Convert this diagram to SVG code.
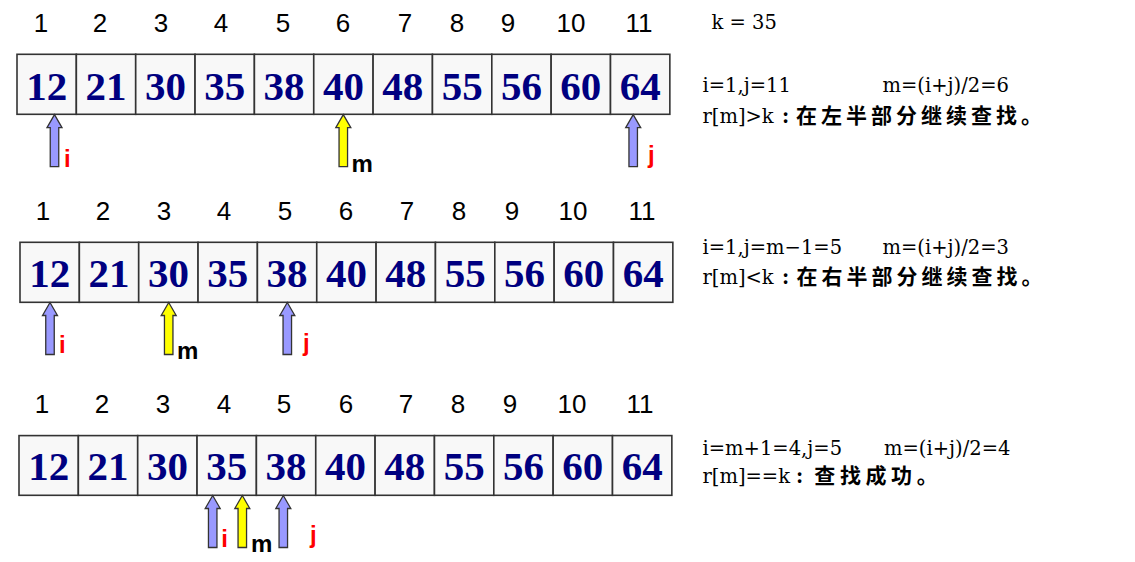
<svg xmlns="http://www.w3.org/2000/svg" xmlns:xlink="http://www.w3.org/1999/xlink" width="1135" height="562" viewBox="0 0 1135 562">
<style>
.cell{fill:#f8f8f8;stroke:#333;stroke-width:1.6}
.num{font-family:"Liberation Serif","Times New Roman",serif;font-weight:bold;font-size:41px;fill:#000080;text-anchor:middle}
.idx{font-family:"Liberation Sans",Arial,sans-serif;font-size:26px;fill:#000;text-anchor:middle}
.note{font-family:"DejaVu Serif",serif;font-size:19.5px;fill:#000}
.colon{font-weight:bold}
.cjk{font-family:"Noto Sans CJK SC","Noto Sans CJK TC",sans-serif;font-size:21px;font-weight:bold}
.lbl{font-family:"Liberation Sans",Arial,sans-serif;font-weight:bold;font-size:24px}
.red{fill:#ff0000}
.blk{fill:#000}
</style>
<defs>
<path id="arrowBlue" d="M0,0 L7.5,13 L4.25,13 L4.25,52 L-4.25,52 L-4.25,13 L-7.5,13 Z" fill="#9999ff" stroke="#333" stroke-width="1.3" stroke-linejoin="miter"/>
<path id="arrowYellow" d="M0,0 L7.5,13 L4.25,13 L4.25,52 L-4.25,52 L-4.25,13 L-7.5,13 Z" fill="#ffff00" stroke="#333" stroke-width="1.3" stroke-linejoin="miter"/>
</defs>
<rect width="1135" height="562" fill="#fff"/>

<!-- Index labels -->
<g id="indices">
<g id="idx-row1">
<text class="idx" x="41" y="31.5">1</text><text class="idx" x="100" y="31.5">2</text><text class="idx" x="161" y="31.5">3</text><text class="idx" x="221" y="31.5">4</text><text class="idx" x="283" y="31.5">5</text><text class="idx" x="343" y="31.5">6</text><text class="idx" x="405" y="31.5">7</text><text class="idx" x="457" y="31.5">8</text><text class="idx" x="508" y="31.5">9</text><text class="idx" x="571" y="31.5">10</text><text class="idx" x="639" y="31.5">11</text>
</g>
<g id="idx-row2">
<text class="idx" x="43" y="220">1</text><text class="idx" x="103" y="220">2</text><text class="idx" x="164" y="220">3</text><text class="idx" x="224" y="220">4</text><text class="idx" x="285" y="220">5</text><text class="idx" x="346" y="220">6</text><text class="idx" x="407" y="220">7</text><text class="idx" x="459" y="220">8</text><text class="idx" x="512" y="220">9</text><text class="idx" x="573" y="220">10</text><text class="idx" x="642" y="220">11</text>
</g>
<g id="idx-row3">
<text class="idx" x="42" y="412.7">1</text><text class="idx" x="102" y="412.7">2</text><text class="idx" x="163" y="412.7">3</text><text class="idx" x="224" y="412.7">4</text><text class="idx" x="284" y="412.7">5</text><text class="idx" x="346" y="412.7">6</text><text class="idx" x="406" y="412.7">7</text><text class="idx" x="458" y="412.7">8</text><text class="idx" x="510" y="412.7">9</text><text class="idx" x="572" y="412.7">10</text><text class="idx" x="640" y="412.7">11</text>
</g>
</g>

<!-- Row 1 array -->
<g id="row1" transform="translate(17,54.3)">
<g id="r1c1"><rect class="cell" x="0" y="0" width="59.35" height="60"/><text class="num" x="29.68" y="45.5">12</text></g>
<g id="r1c2"><rect class="cell" x="59.35" y="0" width="59.35" height="60"/><text class="num" x="89.03" y="45.5">21</text></g>
<g id="r1c3"><rect class="cell" x="118.7" y="0" width="59.35" height="60"/><text class="num" x="148.38" y="45.5">30</text></g>
<g id="r1c4"><rect class="cell" x="178.05" y="0" width="59.35" height="60"/><text class="num" x="207.73" y="45.5">35</text></g>
<g id="r1c5"><rect class="cell" x="237.4" y="0" width="59.35" height="60"/><text class="num" x="267.08" y="45.5">38</text></g>
<g id="r1c6"><rect class="cell" x="296.75" y="0" width="59.35" height="60"/><text class="num" x="326.43" y="45.5">40</text></g>
<g id="r1c7"><rect class="cell" x="356.1" y="0" width="59.35" height="60"/><text class="num" x="385.78" y="45.5">48</text></g>
<g id="r1c8"><rect class="cell" x="415.45" y="0" width="59.35" height="60"/><text class="num" x="445.13" y="45.5">55</text></g>
<g id="r1c9"><rect class="cell" x="474.8" y="0" width="59.35" height="60"/><text class="num" x="504.48" y="45.5">56</text></g>
<g id="r1c10"><rect class="cell" x="534.15" y="0" width="59.35" height="60"/><text class="num" x="563.83" y="45.5">60</text></g>
<g id="r1c11"><rect class="cell" x="593.5" y="0" width="59.35" height="60"/><text class="num" x="623.18" y="45.5">64</text></g>
</g>

<!-- Row 2 array -->
<g id="row2" transform="translate(20,242.3)">
<g id="r2c1"><rect class="cell" x="0" y="0" width="59.35" height="60"/><text class="num" x="29.68" y="44.5">12</text></g>
<g id="r2c2"><rect class="cell" x="59.35" y="0" width="59.35" height="60"/><text class="num" x="89.03" y="44.5">21</text></g>
<g id="r2c3"><rect class="cell" x="118.7" y="0" width="59.35" height="60"/><text class="num" x="148.38" y="44.5">30</text></g>
<g id="r2c4"><rect class="cell" x="178.05" y="0" width="59.35" height="60"/><text class="num" x="207.73" y="44.5">35</text></g>
<g id="r2c5"><rect class="cell" x="237.4" y="0" width="59.35" height="60"/><text class="num" x="267.08" y="44.5">38</text></g>
<g id="r2c6"><rect class="cell" x="296.75" y="0" width="59.35" height="60"/><text class="num" x="326.43" y="44.5">40</text></g>
<g id="r2c7"><rect class="cell" x="356.1" y="0" width="59.35" height="60"/><text class="num" x="385.78" y="44.5">48</text></g>
<g id="r2c8"><rect class="cell" x="415.45" y="0" width="59.35" height="60"/><text class="num" x="445.13" y="44.5">55</text></g>
<g id="r2c9"><rect class="cell" x="474.8" y="0" width="59.35" height="60"/><text class="num" x="504.48" y="44.5">56</text></g>
<g id="r2c10"><rect class="cell" x="534.15" y="0" width="59.35" height="60"/><text class="num" x="563.83" y="44.5">60</text></g>
<g id="r2c11"><rect class="cell" x="593.5" y="0" width="59.35" height="60"/><text class="num" x="623.18" y="44.5">64</text></g>
</g>

<!-- Row 3 array -->
<g id="row3" transform="translate(19,435.6)">
<g id="r3c1"><rect class="cell" x="0" y="0" width="59.35" height="59.7"/><text class="num" x="29.68" y="44.5">12</text></g>
<g id="r3c2"><rect class="cell" x="59.35" y="0" width="59.35" height="59.7"/><text class="num" x="89.03" y="44.5">21</text></g>
<g id="r3c3"><rect class="cell" x="118.7" y="0" width="59.35" height="59.7"/><text class="num" x="148.38" y="44.5">30</text></g>
<g id="r3c4"><rect class="cell" x="178.05" y="0" width="59.35" height="59.7"/><text class="num" x="207.73" y="44.5">35</text></g>
<g id="r3c5"><rect class="cell" x="237.4" y="0" width="59.35" height="59.7"/><text class="num" x="267.08" y="44.5">38</text></g>
<g id="r3c6"><rect class="cell" x="296.75" y="0" width="59.35" height="59.7"/><text class="num" x="326.43" y="44.5">40</text></g>
<g id="r3c7"><rect class="cell" x="356.1" y="0" width="59.35" height="59.7"/><text class="num" x="385.78" y="44.5">48</text></g>
<g id="r3c8"><rect class="cell" x="415.45" y="0" width="59.35" height="59.7"/><text class="num" x="445.13" y="44.5">55</text></g>
<g id="r3c9"><rect class="cell" x="474.8" y="0" width="59.35" height="59.7"/><text class="num" x="504.48" y="44.5">56</text></g>
<g id="r3c10"><rect class="cell" x="534.15" y="0" width="59.35" height="59.7"/><text class="num" x="563.83" y="44.5">60</text></g>
<g id="r3c11"><rect class="cell" x="593.5" y="0" width="59.35" height="59.7"/><text class="num" x="623.18" y="44.5">64</text></g>
</g>

<!-- Pointer arrows -->
<g id="connectors">
<use href="#arrowBlue" x="54.5" y="114.6"/>
<use href="#arrowYellow" x="343.3" y="114.6"/>
<use href="#arrowBlue" x="633.2" y="114.6"/>
<use href="#arrowBlue" x="50" y="302.5"/>
<use href="#arrowYellow" x="168.7" y="302.5"/>
<use href="#arrowBlue" x="287.3" y="302.5"/>
<use href="#arrowBlue" x="212.7" y="495.5"/>
<use href="#arrowYellow" x="242.3" y="495.5"/>
<use href="#arrowBlue" x="283.3" y="495.5"/>
</g>

<!-- Pointer labels -->
<g id="pointer-labels">
<text class="lbl red" x="64" y="166.7">i</text>
<text class="lbl blk" x="351.5" y="171.7">m</text>
<text class="lbl red" x="648" y="163">j</text>
<text class="lbl red" x="59" y="353.3">i</text>
<text class="lbl blk" x="177" y="359">m</text>
<text class="lbl red" x="303" y="350.5">j</text>
<text class="lbl red" x="221.3" y="546.7">i</text>
<text class="lbl blk" x="251" y="551.7">m</text>
<text class="lbl red" x="310" y="543.3">j</text>
</g>

<!-- Notes -->
<g id="notes">
<text class="note" x="711.5" y="29.3">k = 35</text>
<text class="note" x="702.5" y="91.5">i=1,j=11</text>
<text class="note" x="882.5" y="91.5">m=(i+j)/2=6</text>
<text class="note" y="123.3"><tspan x="702.5">r[m]&gt;k</tspan><tspan class="colon" x="782">:</tspan><tspan class="cjk" x="796" letter-spacing="4">在左半部分继续查找。</tspan></text>
<text class="note" x="702.5" y="254.3">i=1,j=m−1=5</text>
<text class="note" x="882.5" y="254.3">m=(i+j)/2=3</text>
<text class="note" y="283.6"><tspan x="702.5">r[m]&lt;k</tspan><tspan class="colon" x="782">:</tspan><tspan class="cjk" x="796.6" letter-spacing="4">在右半部分继续查找。</tspan></text>
<text class="note" x="702.5" y="455">i=m+1=4,j=5</text>
<text class="note" x="884" y="455">m=(i+j)/2=4</text>
<text class="note" y="483.3"><tspan x="702.5">r[m]==k</tspan><tspan class="colon" x="796">:</tspan><tspan class="cjk" x="814.3" letter-spacing="4.6">查找成功。</tspan></text>
</g>
</svg>
